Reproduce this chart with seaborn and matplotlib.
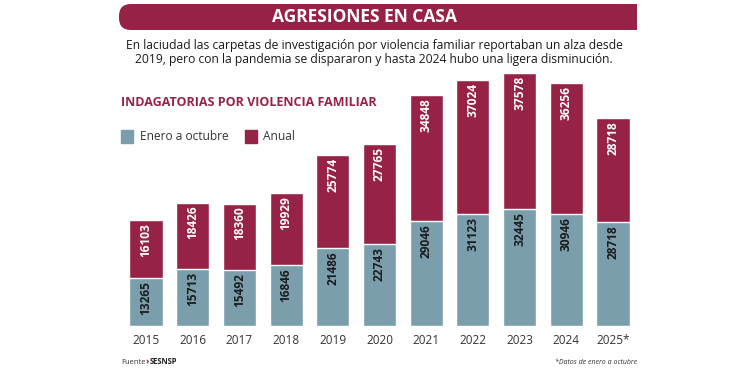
import pandas as pd
import numpy as np
import seaborn as sns
import matplotlib.pyplot as plt
from matplotlib.patches import FancyBboxPatch, Rectangle
from matplotlib.transforms import IdentityTransform

# data read from the graphic
years = ['2015', '2016', '2017', '2018', '2019', '2020', '2021', '2022', '2023', '2024', '2025*']
enero_octubre = [13265, 15713, 15492, 16846, 21486, 22743, 29046, 31123, 32445, 30946, 28718]
anual = [16103, 18426, 18360, 19929, 25774, 27765, 34848, 37024, 37578, 36256, 28718]

maroon = '#962345'
blue = '#7b9eac'

sns.set_theme(style='white')
plt.rcParams['font.family'] = ['Open Sans', 'DejaVu Sans']

df = pd.DataFrame({'year': years, 'eo': enero_octubre, 'anual': anual})
df['top'] = df['eo'] + df['anual']

fig = plt.figure(figsize=(7.5, 3.75), dpi=100)
ax = fig.add_axes([0.1635, 0.1307, 0.685, 0.6746])

# annual segment stacked on top of the jan-oct segment
sns.barplot(data=df, x='year', y='top', color=maroon, width=0.71, saturation=1, ax=ax)
sns.barplot(data=df, x='year', y='eo', color=blue, width=0.71, saturation=1, ax=ax)

ax.set_ylim(0, df['top'].max())
ax.set_xlim(-0.5, len(years) - 0.5)
ax.set_xlabel('')
ax.set_ylabel('')
ax.set_yticks([])
ax.tick_params(axis='x', length=0, pad=6, labelsize=8.5, labelcolor='#333333')
sns.despine(ax=ax, left=True, bottom=True)

pad = df['top'].max() * 0.012
for i, row in df.iterrows():
    ax.text(i, row['top'] - pad, f"{row['anual']}", rotation=90, ha='center', va='top',
            color='white', fontsize=8.6, fontweight='bold')
    ax.text(i, row['eo'] - pad, f"{row['eo']}", rotation=90, ha='center', va='top',
            color='#1c1c1c', fontsize=8.6, fontweight='bold')

# header banner (pixel coordinates, rounded on the left end only)
px = IdentityTransform()
fig.patches.append(FancyBboxPatch((119, 345), 518, 26, boxstyle='round,pad=0,rounding_size=12',
                                  transform=px, color=maroon, linewidth=0))
fig.patches.append(Rectangle((400, 345), 237, 26, transform=px, color=maroon, linewidth=0))
fig.text(364 / 750, 1 - 17 / 375, 'AGRESIONES EN CASA', ha='center', va='center',
         color='white', fontsize=12.5, fontweight='bold')

fig.text(374 / 750, 1 - 53 / 375,
         'En laciudad las carpetas de investigación por violencia familiar reportaban un alza desde\n'
         '2019, pero con la pandemia se dispararon y hasta 2024 hubo una ligera disminución.',
         ha='center', va='center', color='#1a1a1a', fontsize=8.7, linespacing=1.1)

fig.text(121 / 750, 1 - 103 / 375, 'INDAGATORIAS POR VIOLENCIA FAMILIAR', ha='left',
         va='center', color=maroon, fontsize=9, fontweight='bold')

# legend
fig.patches.append(Rectangle((121, 375 - 143), 12, 13, transform=px, color=blue))
fig.text(140 / 750, 1 - 137 / 375, 'Enero a octubre', ha='left', va='center',
         color='#333333', fontsize=8.6)
fig.patches.append(Rectangle((245, 375 - 143), 12, 13, transform=px, color=maroon))
fig.text(263 / 750, 1 - 137 / 375, 'Anual', ha='left', va='center',
         color='#333333', fontsize=8.6)

# footer: source text placed piece by piece
renderer = fig.canvas.get_renderer()
t1 = fig.text(121 / 750, 1 - 362 / 375, 'Fuente', ha='left', va='center',
              color='#333333', fontsize=5.5)
x1 = t1.get_window_extent(renderer).x1
t2 = fig.text((x1 + 0.5) / 750, 1 - 362 / 375, '›', ha='left', va='center', color=maroon,
              fontsize=6.5, fontweight='bold')
x2 = t2.get_window_extent(renderer).x1
fig.text((x2 + 0.5) / 750, 1 - 362 / 375, 'SESNSP', ha='left', va='center', color='#222222',
         fontsize=5.5, fontweight='bold')
fig.text(637 / 750, 1 - 362 / 375, '*Datos de enero a octubre', ha='right', va='center',
         color='#333333', fontsize=5, style='italic')

fig.savefig('out.png', dpi=100, facecolor='white')
